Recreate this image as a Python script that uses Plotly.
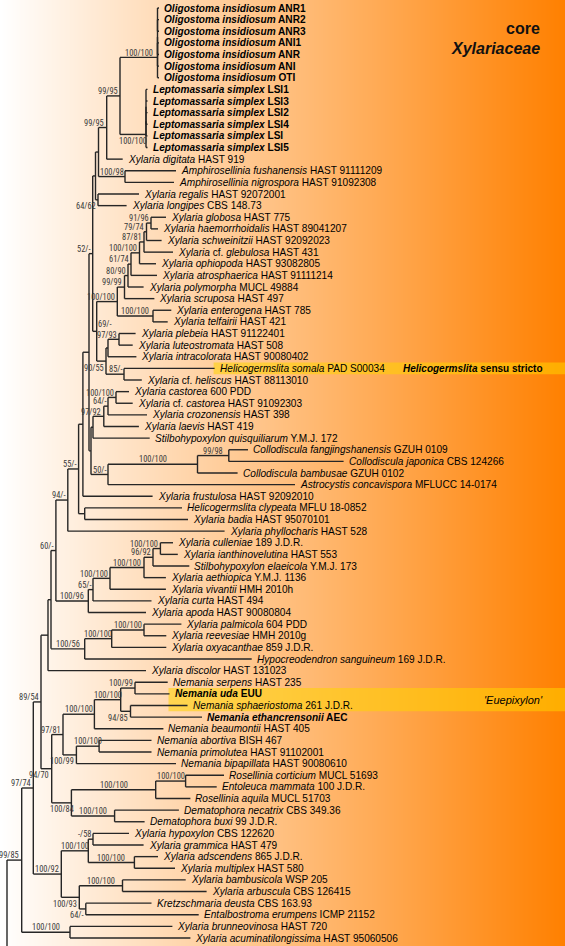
import plotly.graph_objects as go
import numpy as np

# ---------------- DATA ----------------
# Leaves, top to bottom
LEAF_TAXON = [
    "Oligostoma insidiosum", "Oligostoma insidiosum", "Oligostoma insidiosum", "Oligostoma insidiosum",
    "Oligostoma insidiosum", "Oligostoma insidiosum", "Oligostoma insidiosum",
    "Leptomassaria simplex", "Leptomassaria simplex", "Leptomassaria simplex", "Leptomassaria simplex",
    "Leptomassaria simplex", "Leptomassaria simplex",
    "Xylaria digitata", "Amphirosellinia fushanensis", "Amphirosellinia nigrospora",
    "Xylaria regalis", "Xylaria longipes", "Xylaria globosa", "Xylaria haemorrhoidalis",
    "Xylaria schweinitzii", "Xylaria cf. glebulosa", "Xylaria ophiopoda", "Xylaria atrosphaerica",
    "Xylaria polymorpha", "Xylaria scruposa", "Xylaria enterogena", "Xylaria telfairii",
    "Xylaria plebeia", "Xylaria luteostromata", "Xylaria intracolorata", "Helicogermslita somala",
    "Xylaria cf. heliscus", "Xylaria castorea", "Xylaria cf. castorea", "Xylaria crozonensis",
    "Xylaria laevis", "Stilbohypoxylon quisquiliarum", "Collodiscula fangjingshanensis",
    "Collodiscula japonica", "Collodiscula bambusae", "Astrocystis concavispora",
    "Xylaria frustulosa", "Helicogermslita clypeata", "Xylaria badia", "Xylaria phyllocharis",
    "Xylaria culleniae", "Xylaria ianthinovelutina", "Stilbohypoxylon elaeicola",
    "Xylaria aethiopica", "Xylaria vivantii", "Xylaria curta", "Xylaria apoda",
    "Xylaria palmicola", "Xylaria reevesiae", "Xylaria oxyacanthae", "Hypocreodendron sanguineum",
    "Xylaria discolor", "Nemania serpens", "Nemania uda", "Nemania sphaeriostoma",
    "Nemania ethancrensonii", "Nemania beaumontii", "Nemania abortiva", "Nemania primolutea",
    "Nemania bipapillata", "Rosellinia corticium", "Entoleuca mammata", "Rosellinia aquila",
    "Dematophora necatrix", "Dematophora buxi", "Xylaria hypoxylon", "Xylaria grammica",
    "Xylaria adscendens", "Xylaria multiplex", "Xylaria bambusicola", "Xylaria arbuscula",
    "Kretzschmaria deusta", "Entalbostroma erumpens", "Xylaria brunneovinosa",
    "Xylaria acuminatilongissima", "",
]
LEAF_VOUCHER = [
    "ANR1", "ANR2", "ANR3", "ANI1", "ANR", "ANI", "OTI",
    "LSI1", "LSI3", "LSI2", "LSI4", "LSI", "LSI5",
    "HAST 919", "HAST 91111209", "HAST 91092308", "HAST 92072001", "CBS 148.73", "HAST 775",
    "HAST 89041207", "HAST 92092023", "HAST 431", "HAST 93082805", "HAST 91111214",
    "MUCL 49884", "HAST 497", "HAST 785", "HAST 421", "HAST 91122401", "HAST 508",
    "HAST 90080402", "PAD S00034", "HAST 88113010", "600 PDD", "HAST 91092303", "HAST 398",
    "HAST 419", "Y.M.J. 172", "GZUH 0109", "CBS 124266", "GZUH 0102", "MFLUCC 14-0174",
    "HAST 92092010", "MFLU 18-0852", "HAST 95070101", "HAST 528", "189 J.D.R.", "HAST 553",
    "Y.M.J. 173", "Y.M.J. 1136", "HMH 2010h", "HAST 494", "HAST 90080804", "604 PDD",
    "HMH 2010g", "859 J.D.R.", "169 J.D.R.", "HAST 131023", "HAST 235", "EUU",
    "261 J.D.R.", "AEC", "HAST 405", "BISH 467", "HAST 91102001", "HAST 90080610",
    "MUCL 51693", "100 J.D.R.", "MUCL 51703", "CBS 349.36", "99 J.D.R.", "CBS 122620",
    "HAST 479", "865 J.D.R.", "HAST 580", "WSP 205", "CBS 126415", "CBS 163.93",
    "ICMP 21152", "HAST 720", "HAST 95060506", "",
]
LEAF_PARENT = [
    "O2", "O2", "O2", "O4", "O4", "O4", "O",
    "LSb", "LSb", "LSb", "LSb", "LSa", "LS",
    "B", "AM", "AM", "RL", "RL", "N91", "N91", "N79", "N87", "N100a", "N61", "N80", "N99",
    "N100b", "N100b", "N97", "N97", "NPL", "N85", "N85", "NCA", "NCA", "N64", "N97b", "NST",
    "N99c", "N99c", "NCOL", "N50", "N55", "NCB", "NCB", "N94", "NCUL", "NCUL", "N96",
    "N100d", "N100e", "N65", "N96b", "NPA", "NPA", "NOX", "NHY", "NB", "NSE", "NSE",
    "NSP", "NSP", "NBE", "NAB", "NAB", "NBI", "NRC", "NRC", "NRA", "NDE", "NDE",
    "NHX", "NHX", "NAD", "NAD", "NBA", "NBA", "NKR", "NKR", "NBR", "NBR", "ROOT",
]
LEAF_BRANCH = [
    1.5, 1.5, 1.5, 1.5, 1.5, 1.5, 1.5,
    1.5, 1.5, 1.5, 1.5, 1.5, 1.5,
    16.0, 51.0, 49.0, 41.0, 28.6, 15.0, 7.0, 15.1, 29.0, 16.5, 26.0, 15.6, 29.9,
    18.3, 14.7, 16.6, 13.7, 28.4, 90.6, 17.8, 13.0, 16.7, 39.0, 35.1, 56.7,
    19.2, 114.8, 40.1, 187.0, 69.7, 97.3, 103.3, 156.8, 12.6, 17.4, 36.3,
    21.9, 55.9, 58.5, 57.7, 37.4, 22.3, 54.6, 167.0, 98.0, 32.7, 34.5,
    57.0, 71.5, 69.0, 52.4, 52.4, 99.6, 38.4, 31.1, 34.7, 64.3, 30.0,
    36.0, 50.6, 23.6, 40.6, 63.2, 84.1, 65.7, 112.9, 102.4, 120.4, 60.0,
]
BOLD_LEAVES = [0, 1, 2, 3, 4, 5, 6, 7, 8, 9, 10, 11, 12, 59, 61]

# Internal nodes
NODE_ID = [
    "ROOT", "N22", "NBR", "N33", "N92", "NW", "NHX", "NAD", "N93", "NBA", "NKR",
    "N89", "N70", "N81", "NBE", "NNE", "NSE", "NSP", "NBI", "NAB", "N84", "NRA", "NRC", "NDE",
    "NB", "NA", "NHY", "NOX", "NPA", "N60", "N96b", "N65", "N100e", "N100d", "N96", "NCUL",
    "N94", "NX", "NCB", "N55", "P", "NSC", "NST", "N97b", "N64", "NCA", "N50", "NCOL", "N99c",
    "N52", "G", "G1", "B", "A", "O", "O1", "O2", "O4", "LS", "LSa", "LSb", "AM", "RL",
    "N69", "N100c", "N99", "N80", "N61", "N100a", "N87", "N79", "N91", "N100b",
    "N90", "NPL", "N97", "N85",
]
NODE_PARENT = [
    None, "ROOT", "N22", "N22", "N33", "N92", "NW", "NW", "N92", "N93", "N93",
    "N33", "N89", "N70", "N81", "NBE", "NNE", "NNE", "N81", "NBI", "N70", "N84", "NRA", "N84",
    "N89", "NB", "NA", "NHY", "NOX", "NA", "N60", "N96b", "N65", "N100e", "N100d", "N96",
    "N60", "N94", "NX", "NX", "N55", "P", "NSC", "NST", "N97b", "N64", "NSC", "N50", "NCOL",
    "P", "N52", "G", "G1", "B", "A", "O", "O1", "O1", "A", "LS", "LSa", "G1", "G",
    "N52", "N69", "N100c", "N99", "N80", "N61", "N100a", "N87", "N79", "N100c",
    "N69", "N90", "NPL", "N90",
]
NODE_BRANCH = [
    0.0, 14.7, 48.3, 11.6, 28.0, 27.0, 4.7, 46.1, 18.0, 43.2, 6.5,
    7.7, 10.7, 11.3, 31.4, 26.3, 14.3, 9.8, 13.4, 22.7, 19.7, 84.3, 29.9, 43.2,
    7.0, 3.0, 33.7, 27.0, 32.3, 4.9, 32.4, 4.7, 17.0, 34.0, 9.0, 7.4,
    11.9, 10.8, 6.1, 4.3, 6.1, 2.0, 2.0, 10.8, 4.2, 8.0, 17.0, 89.5, 31.3,
    3.7, 2.8, 3.0, 8.2, 13.3, 37.5, 0.0, 0.0, 0.0, 26.0, 0.0, 0.0, 26.5, 2.5,
    4.0, 20.6, 7.2, 3.5, 3.0, 8.5, 4.5, 2.5, 4.5, 35.7,
    9.3, 2.0, 11.0, 18.0,
]
NODE_SUPPORT = [
    "", "99/85", "100/100", "97/74", "100/92", "100/100", "-/58", "100/100", "100/93", "100/100", "64/-",
    "89/54", "94/70", "97/81", "100/100", "100/100", "100/99", "94/85", "100/99", "100/100",
    "100/84", "100/100", "100/100", "100/100",
    "", "", "100/56", "100/100", "100/100", "60/-", "100/96", "65/-", "100/100", "100/100", "96/92", "100/100",
    "94/-", "55/-", "", "", "", "", "", "97/92", "64/-", "100/100", "50/-", "100/100", "99/98",
    "52/-", "", "", "99/95", "99/95", "100/100", "", "", "", "100/100", "", "", "100/98", "64/62",
    "69/-", "100/100", "99/99", "80/90", "61/74", "100/100", "87/81", "79/74", "91/96", "100/100",
    "90/55", "", "97/93", "85/-",
]
SUPPORT_BELOW = ["N93", "NKR", "N70", "NSP", "NBI", "N84", "LS", "RL", "N90"]
SUPPORT_RIGHT = ["N69"]

HIGHLIGHT_LABEL = ["<b><i>Helicogermslita</i> sensu stricto</b>", "<i>'Euepixylon'</i>"]
HIGHLIGHT_LEAVES = [[31], [59, 60]]
CLADE_TITLE = ["<b>core</b>", "<b><i>Xylariaceae</i></b>"]

# ---------------- LAYOUT CONSTANTS ----------------
W, H = 565, 946
ROW_PX = 11.625
TOP_PX = 8.0
ROOT_PX = 7.0
LEAF_FONT = "Liberation Sans, Arial, sans-serif"
SUP_FONT = "Roboto Condensed, DejaVu Sans Condensed, Liberation Sans, sans-serif"
SUP_SIZE = 8.4
SUP_CHAR_W = 3.6

# ---------------- TREE GEOMETRY ----------------
parent = dict(zip(NODE_ID, NODE_PARENT))
blen = dict(zip(NODE_ID, NODE_BRANCH))
support = dict(zip(NODE_ID, NODE_SUPPORT))
node_x = {}


def getx(n):
    if n not in node_x:
        p = parent[n]
        node_x[n] = 0.0 if p is None else getx(p) + blen[n]
    return node_x[n]


for n in NODE_ID:
    getx(n)
leaf_x = [node_x[p] + b for p, b in zip(LEAF_PARENT, LEAF_BRANCH)]

children = {n: [] for n in NODE_ID}
for n, p in zip(NODE_ID, NODE_PARENT):
    if p is not None:
        children[p].append(("n", n))
for i, p in enumerate(LEAF_PARENT):
    children[p].append(("l", i))

node_y, node_min, node_span = {}, {}, {}


def compute(n):
    items = []
    for kind, c in children[n]:
        if kind == "l":
            items.append((c, float(c)))
        else:
            compute(c)
            items.append((node_min[c], node_y[c]))
    items.sort()
    node_min[n] = items[0][0]
    node_span[n] = (items[0][1], items[-1][1])
    node_y[n] = (items[0][1] + items[-1][1]) / 2.0


compute("ROOT")

xs, ys = [], []
for n in NODE_ID:
    x = node_x[n]
    y0, y1 = node_span[n]
    xs += [x, x, None]
    ys += [y0, y1, None]
    p = parent[n]
    if p is not None:
        xs += [node_x[p], x, None]
        ys += [node_y[n], node_y[n], None]
for i, p in enumerate(LEAF_PARENT):
    xs += [node_x[p], leaf_x[i], None]
    ys += [i, i, None]

x_range = [-ROOT_PX, W - ROOT_PX]
y_range = [(H - TOP_PX) / ROW_PX, -TOP_PX / ROW_PX]

fig = go.Figure()

# background gradient (white -> orange)
gx = np.linspace(x_range[0], x_range[1], 160)
gz = (gx - x_range[0]) / (x_range[1] - x_range[0])
fig.add_trace(go.Heatmap(
    x=gx, y=[y_range[1] - 1, y_range[0] + 1], z=[gz, gz],
    colorscale=[[0, "#ffffff"], [1, "#ff8000"]], zmin=0, zmax=1,
    showscale=False, hoverinfo="skip", zsmooth="best",
))

# highlight bands
for lab, leaves in zip(HIGHLIGHT_LABEL, HIGHLIGHT_LEAVES):
    bx0 = min(leaf_x[i] for i in leaves) - 1
    by0, by1 = min(leaves) - 0.5, max(leaves) + 0.5
    fig.add_trace(go.Scatter(
        x=[bx0, x_range[1], x_range[1], bx0, bx0], y=[by0, by0, by1, by1, by0],
        fill="toself", fillcolor="rgba(255,212,0,0.55)", line=dict(width=0),
        mode="lines", hoverinfo="skip", showlegend=False,
    ))

# tree lines
fig.add_trace(go.Scatter(
    x=xs, y=ys, mode="lines", line=dict(color="#262626", width=1.4),
    hoverinfo="skip", showlegend=False,
))

ann = []


def fmt_taxon(t):
    return " ".join(w if w == "cf." else "<i>%s</i>" % w for w in t.split(" "))


for i, (t, v) in enumerate(zip(LEAF_TAXON, LEAF_VOUCHER)):
    if not t:
        continue
    txt = fmt_taxon(t) + " " + v
    if i in BOLD_LEAVES:
        txt = "<b>" + txt + "</b>"
    ann.append(dict(x=leaf_x[i], y=i, xref="x", yref="y", text=txt, showarrow=False,
                    xanchor="left", yanchor="middle", xshift=4, borderpad=0,
                    font=dict(family=LEAF_FONT, size=10.1, color="#000000")))

for n in NODE_ID:
    s = support[n]
    if not s:
        continue
    px = node_x[n]
    bx = node_x[parent[n]] if parent[n] is not None else px - 14
    L = px - bx
    w = len(s) * SUP_CHAR_W
    yshift = -6.5 if n in SUPPORT_BELOW else 4.8
    if n in SUPPORT_RIGHT:
        x, xa = px + 0.5, "left"
        yshift = 7.5
    elif L >= 0.85 * w:
        x, xa = (px + bx) / 2.0, "center"
    else:
        x, xa = px - 1.5, "right"
    left_edge = x - (w if xa == "right" else (w / 2 if xa == "center" else 0))
    if left_edge < x_range[0] + 1:
        x, xa = x_range[0] + 1, "left"
    ann.append(dict(x=x, y=node_y[n], xref="x", yref="y", text=s, showarrow=False,
                    xanchor=xa, yanchor="middle", yshift=yshift, borderpad=0,
                    font=dict(family=SUP_FONT, size=SUP_SIZE, color="#3a3a3a")))

# highlight labels
for lab, leaves in zip(HIGHLIGHT_LABEL, HIGHLIGHT_LEAVES):
    ym = (min(leaves) + max(leaves)) / 2.0
    size = 10 if "<b>" in lab else 11
    ann.append(dict(x=543.5 / W, y=ym, xref="paper", yref="y", text=lab, showarrow=False,
                    xanchor="right", yanchor="middle", borderpad=0,
                    font=dict(family=LEAF_FONT, size=size, color="#000000")))

# clade title
for k, t in enumerate(CLADE_TITLE):
    ann.append(dict(x=541 / W, y=1 - (28 + 20 * k) / H, xref="paper", yref="paper", text=t,
                    showarrow=False, xanchor="right", yanchor="middle", borderpad=0,
                    font=dict(family=LEAF_FONT, size=16, color="#111111")))

fig.update_layout(
    width=W, height=H, margin=dict(l=0, r=0, t=0, b=0),
    paper_bgcolor="white", plot_bgcolor="white",
    xaxis=dict(range=x_range, visible=False, fixedrange=True),
    yaxis=dict(range=y_range, visible=False, fixedrange=True),
    annotations=ann, showlegend=False,
)

fig.write_html(
    "out.html",
    config={"displayModeBar": False},
    post_script="document.body.style.margin='0px';document.body.style.padding='0px';"
                "document.body.style.overflow='hidden';",
)
